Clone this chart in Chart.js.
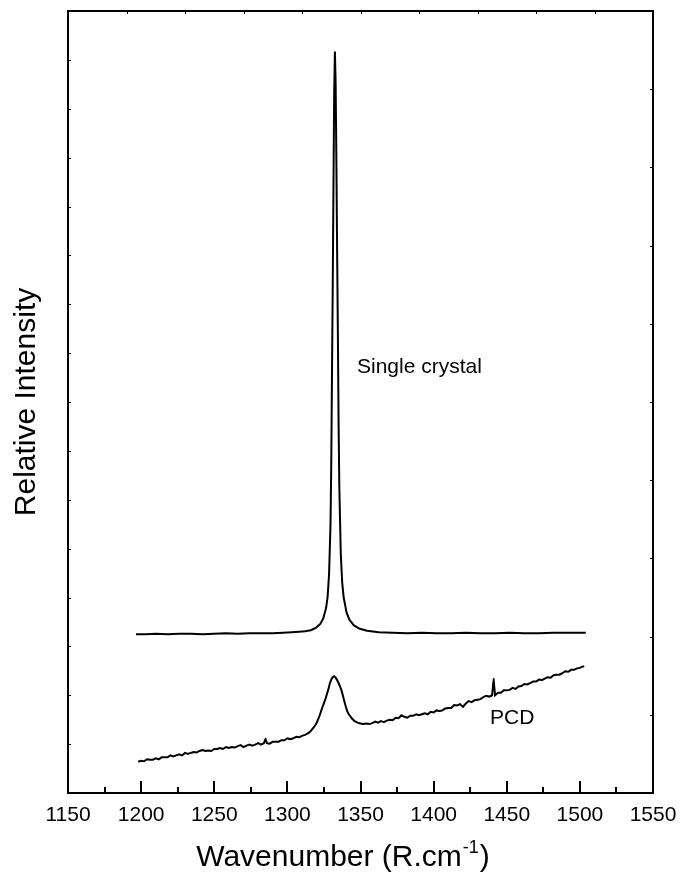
<!DOCTYPE html>
<html>
<head>
<meta charset="utf-8">
<script src="https://cdn.jsdelivr.net/npm/chart.js@4/dist/chart.umd.min.js"></script>
<style>
  html, body { margin: 0; padding: 0; background: #fff; }
  #wrap { position: relative; width: 680px; height: 886px; }
</style>
</head>
<body>
<div id="wrap"><canvas id="raman"></canvas></div>
<script>
// Raman spectra of diamond: single crystal vs. polycrystalline diamond (PCD).
// Points are [Raman shift (cm^-1), relative intensity (arbitrary units)].

const crystalSpectrum = [
  [1196.5,325],[1203,325],[1210,326],[1218,325],[1226,326],[1234,326],[1242,325],[1250,326],
  [1258,327],[1266,326],[1274,327],[1282,327],[1290,327],[1297,328],[1303,329],[1308,330],
  [1312,331],[1316,333],[1319.5,338],[1322.5,346],[1324.5,357],[1326.5,379],[1327.5,401],
  [1328.5,447],[1329.5,550],[1330,671],[1330.5,857],[1331,1028],[1331.5,1235],[1332,1430],
  [1332.5,1517],[1333,1452],[1333.5,1297],[1334,1115],[1334.5,951],[1335,763],[1335.5,630],
  [1336.5,491],[1337.5,430],[1338.5,400],[1340.5,369],[1342.5,354],[1345.5,343],[1349.5,336],
  [1354.5,332],[1362.5,329],[1372,328],[1382,327],[1392,328],[1402,327],[1412,327],[1422,328],
  [1432,327],[1442,327],[1452,328],[1462,327],[1472,327],[1482,328],[1492,328],[1504,328]
];

const pcdSpectrum = [
  [1198,64],[1200,66],[1202,65],[1204,69],[1206,68],[1208,68],[1210,71],[1212,69],[1214,73],[1216,73],
  [1218,73],[1220,77],[1222,75],[1224,77],[1226,79],[1228,77],[1230,82],[1232,80],[1234,82],[1236,84],
  [1238,83],[1240,86],[1242,88],[1244,86],[1246,87],[1248,86],[1250,90],[1252,90],[1254,92],[1256,90],
  [1258,94],[1260,92],[1262,94],[1264,93],[1266,96],[1268,98],[1270,94],[1272,97],[1274,99],[1276,97],
  [1278,99],[1280,102],[1282,99],[1284,102],[1285,111],[1286,102],[1288,101],[1290,105],[1292,105],[1294,105],
  [1296,108],[1298,108],[1300,112],[1302,110],[1304,112],[1306,115],[1308,114],[1310,117],[1312,119],[1314,122],
  [1316,127],[1318,134],[1320,143],[1322,158],[1324,176],[1326,192],[1328,212],[1329,224],[1330,232],[1331,237],
  [1332,239],[1333,236],[1334,231],[1335,225],[1336,218],[1337,210],[1338,199],[1339,187],[1340,176],[1341,167],
  [1342,161],[1344,153],[1346,147],[1348,144],[1350,142],[1352,141],[1354,142],[1356,141],[1358,143],[1360,146],
  [1362,144],[1364,147],[1366,145],[1368,148],[1370,150],[1372,149],[1374,154],[1376,153],[1378,159],[1380,156],
  [1382,154],[1384,158],[1386,158],[1388,161],[1390,159],[1392,161],[1394,163],[1396,161],[1398,166],[1400,165],
  [1402,169],[1404,168],[1406,169],[1408,173],[1410,174],[1412,174],[1414,180],[1416,179],[1418,182],[1420,176],
  [1422,183],[1424,188],[1426,186],[1428,190],[1430,191],[1432,192],[1434,196],[1436,199],[1438,197],[1440,200],
  [1441,233],[1442,200],[1444,205],[1446,205],[1448,210],[1450,210],[1452,211],[1454,215],[1456,213],[1458,218],
  [1460,219],[1462,223],[1464,222],[1466,225],[1468,228],[1470,228],[1472,232],[1474,231],[1476,234],[1478,237],
  [1480,236],[1482,241],[1484,242],[1486,242],[1488,245],[1490,249],[1492,248],[1494,252],[1496,252],[1498,255],
  [1500,256],[1502,259],[1503,259]
];

const xTickLabels = [1150, 1200, 1250, 1300, 1350, 1400, 1450, 1500, 1550];
const xMinorStep = 25;       // minor tick spacing on the bottom axis
const topTickStep = 40;      // small tick spacing on the top edge
const leftTickStep = 100;    // small tick spacing on the left edge
const rightTickStep = 160;   // small tick spacing on the right edge
const xRange = [1150, 1550];
const yRange = [0, 1600];

const curveLabels = [
  { text: 'Single crystal', shift: 1347.6, intensity: 859 },
  { text: 'PCD', shift: 1438.6, intensity: 141 }
];

const FONT = '"Liberation Sans", Arial, Helvetica, sans-serif';

const toXY = arr => arr.map(p => ({ x: p[0], y: p[1] }));

// Frame, inward tick marks, axis titles and curve labels
const decorations = {
  id: 'decorations',
  afterDraw(chart) {
    const { ctx, chartArea: a, scales: { x, y } } = chart;
    ctx.save();
    ctx.strokeStyle = '#000';
    ctx.fillStyle = '#000';

    // bottom axis: major ticks at labels, minor ticks in between
    ctx.lineWidth = 2;
    ctx.beginPath();
    for (let v = xRange[0]; v <= xRange[1]; v += xMinorStep) {
      const px = Math.round(x.getPixelForValue(v));
      const len = xTickLabels.includes(v) ? 12 : 6;
      ctx.moveTo(px, a.bottom);
      ctx.lineTo(px, a.bottom - len);
    }
    ctx.stroke();

    // tiny ticks on the other three edges
    ctx.lineWidth = 1;
    ctx.beginPath();
    for (let v = xRange[0] + topTickStep; v < xRange[1]; v += topTickStep) {
      const px = Math.round(x.getPixelForValue(v)) + 0.5;
      ctx.moveTo(px, a.top);
      ctx.lineTo(px, a.top + 3);
    }
    for (let v = yRange[0] + leftTickStep; v < yRange[1]; v += leftTickStep) {
      const py = Math.round(y.getPixelForValue(v)) + 0.5;
      ctx.moveTo(a.left, py);
      ctx.lineTo(a.left + 3, py);
    }
    for (let v = yRange[0] + rightTickStep; v < yRange[1]; v += rightTickStep) {
      const py = Math.round(y.getPixelForValue(v)) + 0.5;
      ctx.moveTo(a.right, py);
      ctx.lineTo(a.right - 3, py);
    }
    ctx.stroke();

    // frame
    ctx.lineWidth = 2;
    ctx.strokeRect(a.left, a.top, a.right - a.left, a.bottom - a.top);

    // curve labels
    ctx.font = '21px ' + FONT;
    ctx.textAlign = 'left';
    ctx.textBaseline = 'alphabetic';
    curveLabels.forEach(l => {
      ctx.fillText(l.text, x.getPixelForValue(l.shift), y.getPixelForValue(l.intensity));
    });

    // x-axis title with superscript
    const main = 'Wavenumber (R.cm', sup = '-1', close = ')';
    const bigFont = '30px ' + FONT, smallFont = '18px ' + FONT;
    ctx.font = bigFont;
    const w1 = ctx.measureText(main).width;
    const w3 = ctx.measureText(close).width;
    ctx.font = smallFont;
    const w2 = ctx.measureText(sup).width;
    const cx = 342;
    const base = 866;
    let x0 = cx - (w1 + w2 + w3) / 2;
    ctx.font = bigFont;
    ctx.fillText(main, x0, base);
    x0 += w1;
    ctx.font = smallFont;
    ctx.fillText(sup, x0 + 1, base - 13);
    x0 += w2 + 2;
    ctx.font = bigFont;
    ctx.fillText(close, x0, base);

    // y-axis title
    ctx.translate(35, (a.top + a.bottom) / 2);
    ctx.rotate(-Math.PI / 2);
    ctx.textAlign = 'center';
    ctx.font = bigFont;
    ctx.fillText('Relative Intensity', 0, 0);

    ctx.restore();
  }
};

const lineStyle = { borderColor: '#000', borderWidth: 2, pointRadius: 0, tension: 0.001, fill: false };

new Chart(document.getElementById('raman'), {
  type: 'line',
  data: {
    datasets: [
      Object.assign({ label: 'Single crystal', data: toXY(crystalSpectrum) }, lineStyle),
      Object.assign({ label: 'PCD', data: toXY(pcdSpectrum) }, lineStyle)
    ]
  },
  options: {
    responsive: true,
    maintainAspectRatio: false,
    animation: false,
    layout: { padding: { top: 11, right: 27, left: 0, bottom: 0 } },
    plugins: { legend: { display: false }, tooltip: { enabled: false } },
    scales: {
      x: {
        type: 'linear', min: xRange[0], max: xRange[1],
        ticks: { stepSize: 50, color: '#000', padding: 10, maxRotation: 0, autoSkip: false,
                 font: { family: FONT, size: 21 }, callback: v => String(v) },
        grid: { display: false, drawTicks: false },
        border: { display: false },
        afterFit(s) { s.height = 93; s.paddingLeft = 0; s.paddingRight = 0; }
      },
      y: {
        min: yRange[0], max: yRange[1],
        ticks: { display: false },
        grid: { display: false, drawTicks: false },
        border: { display: false },
        afterFit(s) { s.width = 68; }
      }
    }
  },
  plugins: [decorations]
});
</script>
</body>
</html>
